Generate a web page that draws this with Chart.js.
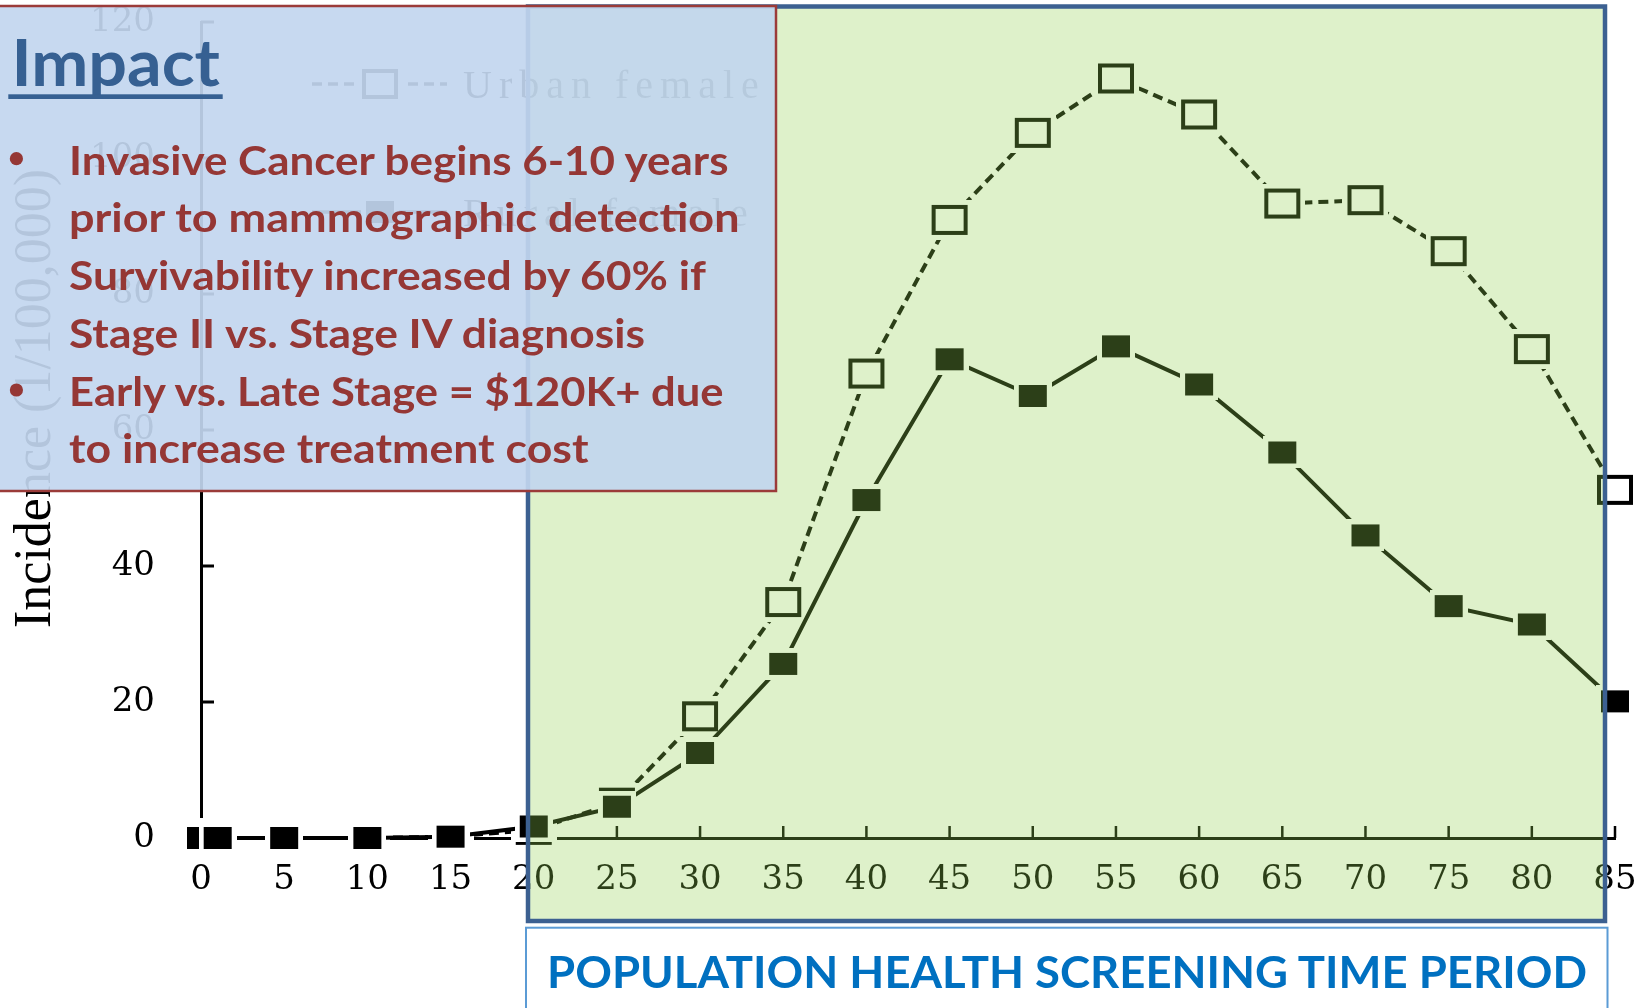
<!DOCTYPE html>
<html><head><meta charset="utf-8">
<script src="https://cdn.jsdelivr.net/npm/chart.js@4.4.1/dist/chart.umd.min.js"></script>
<style>
html,body{margin:0;padding:0;background:#fff;width:1640px;height:1008px;overflow:hidden;}
#wrap{position:relative;width:1640px;height:1008px;}
#c{position:absolute;left:0;top:0;}
#ov{position:absolute;left:0;top:0;pointer-events:none;}
</style></head><body>
<div id="wrap">
<canvas id="c" width="1640" height="1008"></canvas>
<svg id="ov" width="1640" height="1008" xmlns="http://www.w3.org/2000/svg">
  <rect x="528" y="6.5" width="1077" height="914.5" fill="rgba(146,208,80,0.3)" stroke="#3c6091" stroke-width="4.5"/>
  <rect x="-4" y="6" width="780" height="485" fill="rgba(194,214,239,0.92)" stroke="#9b3b39" stroke-width="2.5"/>
  <text x="11.5" y="86" font-family="Lato" font-weight="700" font-size="65" fill="#366092" textLength="208.5" lengthAdjust="spacingAndGlyphs">Impact</text>
  <rect x="8.3" y="94.3" width="214.4" height="4.7" fill="#366092"/>
  <circle cx="16.4" cy="158.7" r="6.6" fill="#953735"/>
  <circle cx="16.4" cy="390" r="6.6" fill="#953735"/>
  <g font-family="Lato" font-weight="700" font-size="40" fill="#953735">
    <text x="69" y="175" textLength="659.5" lengthAdjust="spacingAndGlyphs">Invasive Cancer begins 6-10 years</text>
    <text x="69" y="232" textLength="670.5" lengthAdjust="spacingAndGlyphs">prior to mammographic detection</text>
    <text x="69" y="290" textLength="637" lengthAdjust="spacingAndGlyphs">Survivability increased by 60% if</text>
    <text x="69" y="348" textLength="576" lengthAdjust="spacingAndGlyphs">Stage II vs. Stage IV diagnosis</text>
    <text x="69" y="405.5" textLength="654.5" lengthAdjust="spacingAndGlyphs">Early vs. Late Stage = $120K+ due</text>
    <text x="69" y="463.3" textLength="519.5" lengthAdjust="spacingAndGlyphs">to increase treatment cost</text>
  </g>
  <rect x="526" y="927.7" width="1081.5" height="120" fill="#ffffff" stroke="#5b9bd5" stroke-width="2"/>
  <text x="547" y="988.3" font-family="Lato" font-weight="700" font-size="44" fill="#0070c0" textLength="1040" lengthAdjust="spacingAndGlyphs">POPULATION HEALTH SCREENING TIME PERIOD</text>
</svg>
</div>
<script>
// ---- data ----
const ages = [0, 1, 5, 10, 15, 20, 25, 30, 35, 40, 45, 50, 55, 60, 65, 70, 75, 80, 85];
const urbanFemale = [0, 0, 0, 0, 0.2, 1.2, 5.2, 17.9, 34.7, 68.3, 90.9, 103.7, 111.7, 106.4, 93.3, 93.8, 86.3, 71.9, 51.2];
const ruralFemale = [0, 0, 0, 0, 0.2, 1.7, 4.6, 12.5, 25.6, 49.7, 70.4, 65.0, 72.3, 66.7, 56.7, 44.5, 34.1, 31.4, 20.1];
const xTickValues = [0, 5, 10, 15, 20, 25, 30, 35, 40, 45, 50, 55, 60, 65, 70, 75, 80, 85];
const yTickValues = [0, 20, 40, 60, 80, 100, 120];
const seriesNames = ['Urban female', 'Rural female'];
const yAxisTitle = 'Incidence (1/100,000)';

// ---- marker images (marker with white halo) ----
function makeMarker(w, h, halo, filled, border) {
  const c = document.createElement('canvas');
  c.width = w + 2 * halo; c.height = h + 2 * halo;
  const g = c.getContext('2d');
  g.fillStyle = '#ffffff'; g.fillRect(0, 0, c.width, c.height);
  g.fillStyle = '#000000'; g.fillRect(halo, halo, w, h);
  if (!filled) { g.fillStyle = '#ffffff'; g.fillRect(halo + border, halo + border, w - 2 * border, h - 2 * border); }
  return c;
}
const filledMarker = makeMarker(28, 22, 5, true, 0);
const openMarker = makeMarker(36, 30, 5, false, 4);

const decor = {
  id: 'decor',
  beforeDatasetsDraw(chart) {
    const ctx = chart.ctx, a = chart.chartArea, xs = chart.scales.x, ys = chart.scales.y;
    ctx.save();
    ctx.strokeStyle = '#000'; ctx.lineCap = 'butt';
    ctx.lineWidth = 3;
    ys.ticks.forEach(t => {
      if (t.value === 0) return;
      const py = ys.getPixelForValue(t.value);
      ctx.beginPath(); ctx.moveTo(a.left, py); ctx.lineTo(a.left + 13, py); ctx.stroke();
    });
    ctx.lineWidth = 2.5;
    xs.ticks.forEach(t => {
      if (t.value === 0) return;
      const px = xs.getPixelForValue(t.value);
      ctx.beginPath(); ctx.moveTo(px, a.bottom); ctx.lineTo(px, a.bottom - 12); ctx.stroke();
    });
    // y axis title
    ctx.save();
    ctx.translate(36, 628); ctx.rotate(-Math.PI / 2);
    ctx.font = '52px "Liberation Serif"'; ctx.fillStyle = '#000';
    ctx.textAlign = 'left'; ctx.textBaseline = 'middle';
    ctx.fillText(yAxisTitle, 0, 0);
    ctx.restore();
    // legend
    const rows = [
      {name: seriesNames[0], y: 84, dash: [10, 6], img: openMarker},
      {name: seriesNames[1], y: 212, dash: [], img: filledMarker}
    ];
    rows.forEach(r => {
      ctx.save();
      ctx.strokeStyle = '#000'; ctx.lineWidth = 3.5; ctx.setLineDash(r.dash);
      ctx.beginPath(); ctx.moveTo(312, r.y); ctx.lineTo(447, r.y); ctx.stroke();
      ctx.setLineDash([]);
      ctx.drawImage(r.img, 380 - r.img.width / 2, r.y - r.img.height / 2);
      ctx.font = '40px "Liberation Serif"'; ctx.fillStyle = '#000';
      ctx.textAlign = 'left'; ctx.textBaseline = 'alphabetic';
      try { ctx.letterSpacing = '7px'; } catch (e) {}
      ctx.fillText(r.name, 463, r.y + 14);
      ctx.restore();
    });
    ctx.restore();
  }
};

new Chart(document.getElementById('c'), {
  type: 'line',
  data: {
    datasets: [
      {
        label: seriesNames[1],
        data: ages.map((a, i) => ({x: a, y: ruralFemale[i]})),
        borderColor: '#000', backgroundColor: '#000', borderWidth: 4,
        pointStyle: filledMarker, pointRadius: 14, pointBorderWidth: 0,
        tension: 0, fill: false, clip: false, order: 0
      },
      {
        label: seriesNames[0],
        data: ages.map((a, i) => ({x: a, y: urbanFemale[i]})),
        borderColor: '#000', backgroundColor: '#fff', borderWidth: 4, borderDash: [10, 6],
        pointStyle: openMarker, pointRadius: 18, pointBorderWidth: 0,
        tension: 0, fill: false, clip: false, order: 1
      }
    ]
  },
  options: {
    responsive: false, animation: false, events: [],
    layout: {padding: {left: 0, right: 25, top: 22, bottom: 0}, autoPadding: false},
    plugins: {legend: {display: false}, tooltip: {enabled: false}, title: {display: false}},
    scales: {
      x: {
        type: 'linear', position: 'bottom', min: 0, max: 85,
        afterFit: s => { s.height = 170; },
        afterBuildTicks: s => { s.ticks = xTickValues.map(v => ({value: v})); },
        grid: {display: false, drawTicks: true, tickLength: 22},
        border: {display: true, color: '#000', width: 3},
        ticks: {font: {family: 'DejaVu Serif', size: 34}, color: '#000', padding: 0,
                maxRotation: 0, autoSkip: false, callback: v => String(v)}
      },
      y: {
        type: 'linear', position: 'left', min: 0, max: 120,
        afterFit: s => { s.width = 201; },
        afterBuildTicks: s => { s.ticks = yTickValues.map(v => ({value: v})); },
        grid: {display: false, drawTicks: true, tickLength: 46},
        border: {display: true, color: '#000', width: 3},
        ticks: {font: {family: 'DejaVu Serif', size: 34}, color: '#000', padding: 0,
                callback: v => String(v)}
      }
    }
  },
  plugins: [decor]
});
</script>
</body></html>
